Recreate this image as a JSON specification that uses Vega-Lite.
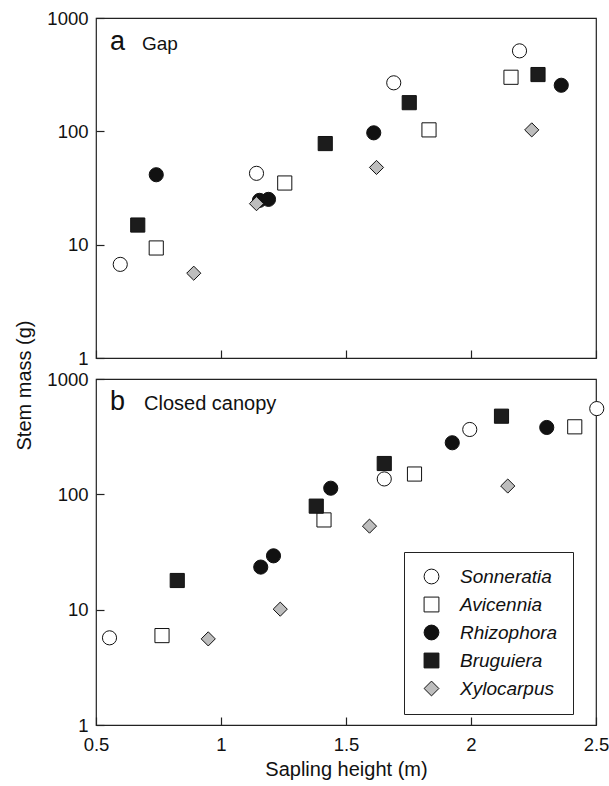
{
  "$schema": "https://vega.github.io/schema/vega-lite/v6.json",
  "padding": {"left": 13, "top": 8, "right": 5, "bottom": 5},
  "spacing": 21,
  "bounds": "flush",
  "config": {
    "font": "Liberation Sans",
    "view": {"stroke": "#222", "strokeWidth": 1.2},
    "axis": {
      "grid": false,
      "domain": false,
      "tickSize": -8,
      "tickColor": "#222",
      "tickWidth": 1.2,
      "labelFont": "Liberation Sans",
      "labelFontSize": 18.5,
      "labelColor": "#111",
      "labelFlush": false,
      "titleFont": "Liberation Sans",
      "titleFontSize": 20,
      "titleFontWeight": "normal",
      "titleColor": "#111"
    },
    "legend": {
      "labelFont": "Liberation Sans",
      "labelFontSize": 19,
      "labelFontStyle": "italic",
      "labelColor": "#111"
    }
  },
  "data": {
    "values": [
      {"panel": "a", "species": "Sonneratia", "height": 0.597, "mass": 6.7},
      {"panel": "a", "species": "Sonneratia", "height": 1.142, "mass": 42.6},
      {"panel": "a", "species": "Sonneratia", "height": 1.691, "mass": 268},
      {"panel": "a", "species": "Sonneratia", "height": 2.194, "mass": 513},
      {"panel": "a", "species": "Avicennia", "height": 0.741, "mass": 9.35},
      {"panel": "a", "species": "Avicennia", "height": 1.255, "mass": 35},
      {"panel": "a", "species": "Avicennia", "height": 1.832, "mass": 103},
      {"panel": "a", "species": "Avicennia", "height": 2.16, "mass": 300},
      {"panel": "a", "species": "Rhizophora", "height": 0.741, "mass": 41.4},
      {"panel": "a", "species": "Rhizophora", "height": 1.154, "mass": 24.6},
      {"panel": "a", "species": "Rhizophora", "height": 1.19, "mass": 25.1},
      {"panel": "a", "species": "Rhizophora", "height": 1.611, "mass": 97},
      {"panel": "a", "species": "Rhizophora", "height": 2.361, "mass": 255},
      {"panel": "a", "species": "Bruguiera", "height": 0.667, "mass": 14.9},
      {"panel": "a", "species": "Bruguiera", "height": 1.417, "mass": 78},
      {"panel": "a", "species": "Bruguiera", "height": 1.753, "mass": 179},
      {"panel": "a", "species": "Bruguiera", "height": 2.268, "mass": 317},
      {"panel": "a", "species": "Xylocarpus", "height": 0.891, "mass": 5.6},
      {"panel": "a", "species": "Xylocarpus", "height": 1.142, "mass": 23},
      {"panel": "a", "species": "Xylocarpus", "height": 1.622, "mass": 48},
      {"panel": "a", "species": "Xylocarpus", "height": 2.243, "mass": 103},
      {"panel": "b", "species": "Sonneratia", "height": 0.554, "mass": 5.7},
      {"panel": "b", "species": "Sonneratia", "height": 1.653, "mass": 136},
      {"panel": "b", "species": "Sonneratia", "height": 1.995, "mass": 365},
      {"panel": "b", "species": "Sonneratia", "height": 2.503, "mass": 554},
      {"panel": "b", "species": "Avicennia", "height": 0.764, "mass": 5.96},
      {"panel": "b", "species": "Avicennia", "height": 1.412, "mass": 60},
      {"panel": "b", "species": "Avicennia", "height": 1.774, "mass": 150},
      {"panel": "b", "species": "Avicennia", "height": 2.415, "mass": 385},
      {"panel": "b", "species": "Rhizophora", "height": 1.159, "mass": 23.4},
      {"panel": "b", "species": "Rhizophora", "height": 1.21, "mass": 29.3},
      {"panel": "b", "species": "Rhizophora", "height": 1.439, "mass": 113},
      {"panel": "b", "species": "Rhizophora", "height": 1.925, "mass": 280},
      {"panel": "b", "species": "Rhizophora", "height": 2.303, "mass": 380},
      {"panel": "b", "species": "Bruguiera", "height": 0.825, "mass": 17.9},
      {"panel": "b", "species": "Bruguiera", "height": 1.381, "mass": 79},
      {"panel": "b", "species": "Bruguiera", "height": 1.653, "mass": 185},
      {"panel": "b", "species": "Bruguiera", "height": 2.122, "mass": 476},
      {"panel": "b", "species": "Xylocarpus", "height": 0.949, "mass": 5.58},
      {"panel": "b", "species": "Xylocarpus", "height": 1.237, "mass": 10.1},
      {"panel": "b", "species": "Xylocarpus", "height": 1.594, "mass": 53},
      {"panel": "b", "species": "Xylocarpus", "height": 2.147, "mass": 118}
    ]
  },
  "resolve": {
    "scale": {"fill": "independent", "shape": "independent", "stroke": "independent", "y": "independent", "x": "independent"},
    "legend": {"fill": "independent", "shape": "independent", "stroke": "independent"}
  },
  "vconcat": [
    {
      "width": 500,
      "height": 340,
      "layer": [
        {
          "transform": [{"filter": "datum.panel === 'a'"}],
          "mark": {"type": "point", "filled": true, "strokeWidth": 1, "size": 200, "opacity": 1, "clip": false},
          "encoding": {
            "x": {"field": "height", "type": "quantitative", "scale": {"domain": [0.5, 2.5], "nice": false, "zero": false}, "axis": {"title": null, "labels": false, "values": [0.5, 1, 1.5, 2, 2.5]}},
            "y": {"field": "mass", "type": "quantitative", "scale": {"type": "log", "domain": [1, 1000], "nice": false}, "axis": {"title": null, "values": [1, 10, 100, 1000], "format": "d", "labelPadding": 16}},
            "fill": {"field": "species", "type": "nominal", "scale": {"domain": ["Sonneratia", "Avicennia", "Rhizophora", "Bruguiera", "Xylocarpus"], "range": ["#ffffff", "#ffffff", "#111111", "#1c1c1c", "#bdbdbd"]}, "legend": null},
            "stroke": {"field": "species", "type": "nominal", "scale": {"domain": ["Sonneratia", "Avicennia", "Rhizophora", "Bruguiera", "Xylocarpus"], "range": ["#111111", "#111111", "#111111", "#111111", "#111111"]}, "legend": null},
            "shape": {"field": "species", "type": "nominal", "scale": {"domain": ["Sonneratia", "Avicennia", "Rhizophora", "Bruguiera", "Xylocarpus"], "range": ["circle", "square", "circle", "square", "diamond"]}, "legend": null}
          }
        },
        {
          "data": {"values": [{}]},
          "mark": {"type": "text", "text": "a", "fontSize": 27, "align": "left", "baseline": "alphabetic", "color": "#111"},
          "encoding": {"x": {"datum": 0.556}, "y": {"datum": 521}}
        },
        {
          "data": {"values": [{}]},
          "mark": {"type": "text", "text": "Gap", "fontSize": 19, "align": "left", "baseline": "alphabetic", "color": "#111"},
          "encoding": {"x": {"datum": 0.684}, "y": {"datum": 521}}
        }
      ]
    },
    {
      "width": 500,
      "height": 346,
      "layer": [
        {
          "transform": [{"filter": "datum.panel === 'b'"}],
          "mark": {"type": "point", "filled": true, "strokeWidth": 1, "size": 200, "opacity": 1, "clip": false},
          "encoding": {
            "x": {"field": "height", "type": "quantitative", "scale": {"domain": [0.5, 2.5], "nice": false, "zero": false}, "axis": {"title": "Sapling height (m)", "values": [0.5, 1, 1.5, 2, 2.5], "format": "~g", "labelPadding": 18, "titlePadding": 6}},
            "y": {"field": "mass", "type": "quantitative", "scale": {"type": "log", "domain": [1, 1000], "nice": false}, "axis": {"title": "Stem mass (g)", "values": [1, 10, 100, 1000], "format": "d", "labelPadding": 16, "titleX": -62, "titleY": 6, "titleAnchor": null}},
            "fill": {"field": "species", "type": "nominal", "title": null, "scale": {"domain": ["Sonneratia", "Avicennia", "Rhizophora", "Bruguiera", "Xylocarpus"], "range": ["#ffffff", "#ffffff", "#111111", "#1c1c1c", "#bdbdbd"]}, "legend": {"orient": "none", "legendX": 308, "legendY": 173, "strokeColor": "#222", "padding": 15, "rowPadding": 8, "symbolSize": 220, "symbolStrokeWidth": 1, "symbolOffset": 3, "labelOffset": 19, "title": null}},
            "stroke": {"field": "species", "type": "nominal", "title": null, "scale": {"domain": ["Sonneratia", "Avicennia", "Rhizophora", "Bruguiera", "Xylocarpus"], "range": ["#111111", "#111111", "#111111", "#111111", "#111111"]}, "legend": {"orient": "none", "legendX": 308, "legendY": 173, "strokeColor": "#222", "padding": 15, "rowPadding": 8, "symbolSize": 220, "symbolStrokeWidth": 1, "symbolOffset": 3, "labelOffset": 19, "title": null}},
            "shape": {"field": "species", "type": "nominal", "title": null, "scale": {"domain": ["Sonneratia", "Avicennia", "Rhizophora", "Bruguiera", "Xylocarpus"], "range": ["circle", "square", "circle", "square", "diamond"]}, "legend": {"orient": "none", "legendX": 308, "legendY": 173, "strokeColor": "#222", "padding": 15, "rowPadding": 8, "symbolSize": 220, "symbolStrokeWidth": 1, "symbolOffset": 3, "labelOffset": 19, "title": null}}
          }
        },
        {
          "data": {"values": [{}]},
          "mark": {"type": "text", "text": "b", "fontSize": 27, "align": "left", "baseline": "alphabetic", "color": "#111"},
          "encoding": {"x": {"datum": 0.556}, "y": {"datum": 538}}
        },
        {
          "data": {"values": [{}]},
          "mark": {"type": "text", "text": "Closed canopy", "fontSize": 20, "align": "left", "baseline": "alphabetic", "color": "#111"},
          "encoding": {"x": {"datum": 0.692}, "y": {"datum": 538}}
        }
      ]
    }
  ]
}
